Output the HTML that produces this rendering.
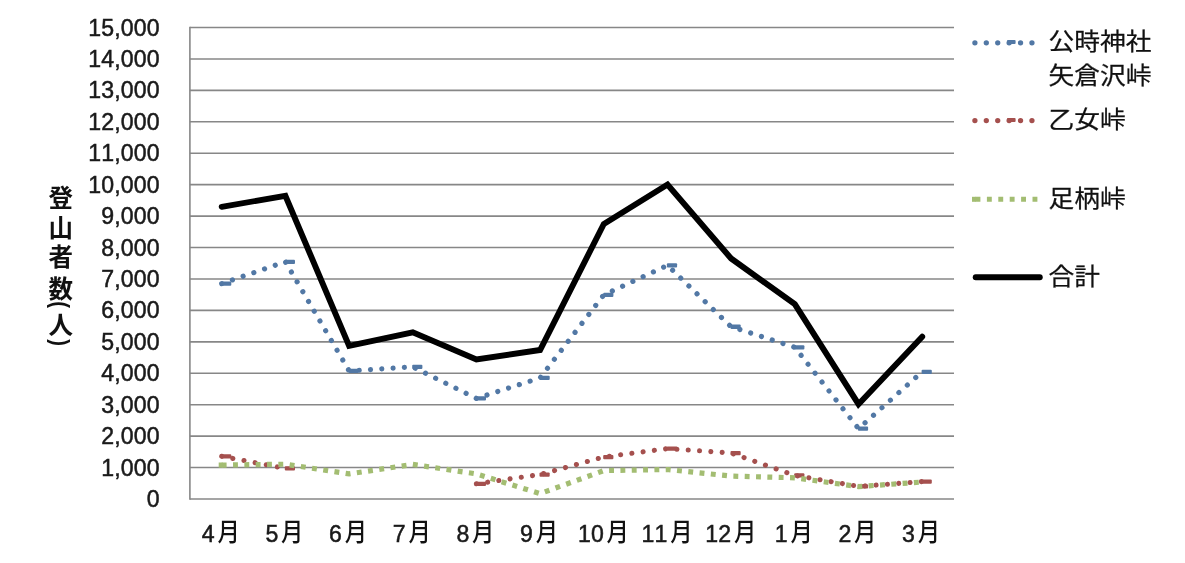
<!DOCTYPE html>
<html lang="ja">
<head>
<meta charset="utf-8">
<title>登山者数</title>
<style>
html,body{margin:0;padding:0;background:#fff;}
body{width:1185px;height:563px;overflow:hidden;}
svg{display:block;}
.num{font-family:"Liberation Sans",sans-serif;font-size:23.1px;letter-spacing:0.15px;fill:#1a1a1a;font-kerning:none;stroke:#1a1a1a;stroke-width:0.5px;}
.jp{font-family:"Liberation Sans","Noto Sans CJK JP",sans-serif;font-size:23.6px;font-weight:400;fill:#111;stroke:#111;stroke-width:0.25px;}
.mo{font-family:"Liberation Sans","Noto Sans CJK JP",sans-serif;font-size:24.5px;font-weight:500;fill:#111;}
.ttl{font-family:"Liberation Sans","Noto Sans CJK JP",sans-serif;font-size:24.5px;font-weight:bold;fill:#111;}
</style>
</head>
<body>
<svg width="1185" height="563" viewBox="0 0 1185 563">
<rect x="0" y="0" width="1185" height="563" fill="#ffffff"/>

<g stroke="#878787" stroke-width="1.6" fill="none">
<line x1="189.9" y1="499.00" x2="954.0" y2="499.00"/>
<line x1="189.9" y1="467.57" x2="954.0" y2="467.57"/>
<line x1="189.9" y1="436.13" x2="954.0" y2="436.13"/>
<line x1="189.9" y1="404.70" x2="954.0" y2="404.70"/>
<line x1="189.9" y1="373.27" x2="954.0" y2="373.27"/>
<line x1="189.9" y1="341.83" x2="954.0" y2="341.83"/>
<line x1="189.9" y1="310.40" x2="954.0" y2="310.40"/>
<line x1="189.9" y1="278.97" x2="954.0" y2="278.97"/>
<line x1="189.9" y1="247.53" x2="954.0" y2="247.53"/>
<line x1="189.9" y1="216.10" x2="954.0" y2="216.10"/>
<line x1="189.9" y1="184.67" x2="954.0" y2="184.67"/>
<line x1="189.9" y1="153.23" x2="954.0" y2="153.23"/>
<line x1="189.9" y1="121.80" x2="954.0" y2="121.80"/>
<line x1="189.9" y1="90.37" x2="954.0" y2="90.37"/>
<line x1="189.9" y1="58.93" x2="954.0" y2="58.93"/>
<line x1="189.9" y1="27.50" x2="954.0" y2="27.50"/>
<line x1="189.9" y1="26.80" x2="189.9" y2="499.70"/>
</g>
<g class="num" text-anchor="end">
<text x="159.7" y="507">0</text>
<text x="159.7" y="476">1,000</text>
<text x="159.7" y="444">2,000</text>
<text x="159.7" y="413">3,000</text>
<text x="159.7" y="381">4,000</text>
<text x="159.7" y="350">5,000</text>
<text x="159.7" y="318">6,000</text>
<text x="159.7" y="287">7,000</text>
<text x="159.7" y="256">8,000</text>
<text x="159.7" y="224">9,000</text>
<text x="159.7" y="193">10,000</text>
<text x="159.7" y="161">11,000</text>
<text x="159.7" y="130">12,000</text>
<text x="159.7" y="98">13,000</text>
<text x="159.7" y="67">14,000</text>
<text x="159.7" y="36">15,000</text>
</g>
<g>
<text x="214.7" y="541.6" class="num" text-anchor="end">4</text>
<text transform="translate(217.4 541.4) scale(0.91 1)" class="mo">月</text>
<text x="278.4" y="541.6" class="num" text-anchor="end">5</text>
<text transform="translate(281.1 541.4) scale(0.91 1)" class="mo">月</text>
<text x="342.0" y="541.6" class="num" text-anchor="end">6</text>
<text transform="translate(344.7 541.4) scale(0.91 1)" class="mo">月</text>
<text x="405.7" y="541.6" class="num" text-anchor="end">7</text>
<text transform="translate(408.4 541.4) scale(0.91 1)" class="mo">月</text>
<text x="469.4" y="541.6" class="num" text-anchor="end">8</text>
<text transform="translate(472.1 541.4) scale(0.91 1)" class="mo">月</text>
<text x="533.1" y="541.6" class="num" text-anchor="end">9</text>
<text transform="translate(535.8 541.4) scale(0.91 1)" class="mo">月</text>
<text x="603.9" y="541.6" class="num" text-anchor="end">10</text>
<text transform="translate(606.6 541.4) scale(0.91 1)" class="mo">月</text>
<text x="667.6" y="541.6" class="num" text-anchor="end">11</text>
<text transform="translate(670.3 541.4) scale(0.91 1)" class="mo">月</text>
<text x="731.2" y="541.6" class="num" text-anchor="end">12</text>
<text transform="translate(733.9 541.4) scale(0.91 1)" class="mo">月</text>
<text x="787.8" y="541.6" class="num" text-anchor="end">1</text>
<text transform="translate(790.5 541.4) scale(0.91 1)" class="mo">月</text>
<text x="851.4" y="541.6" class="num" text-anchor="end">2</text>
<text transform="translate(854.1 541.4) scale(0.91 1)" class="mo">月</text>
<text x="915.1" y="541.6" class="num" text-anchor="end">3</text>
<text transform="translate(917.8 541.4) scale(0.91 1)" class="mo">月</text>
</g>
<g class="ttl" text-anchor="middle">
<text x="60.8" y="207.1">登</text>
<text x="60.8" y="236.8">山</text>
<text x="60.8" y="266.4">者</text>
<text x="60.8" y="297.7">数</text>
<text x="60.8" y="334.3">人</text>
<text transform="translate(60.3 304.6) rotate(90) scale(0.82 1)" x="0" y="8.5">(</text>
<text transform="translate(60.3 342.6) rotate(90) scale(0.82 1)" x="0" y="8.5">)</text>
</g>
<g fill="none">
<path d="M221.7 283.6 L285.4 261.8 L349.1 370.9 L412.8 366.9 L476.4 398.4 L540.1 377.9 L603.8 294.9 L667.5 265.3 L731.1 326.7 L794.8 347.3 L858.5 428.6 L922.2 371.8" stroke="#5278a5" stroke-width="5.2" stroke-linecap="round" stroke-linejoin="round" stroke-dasharray="0.01 11.31"/>
<rect x="221.1" y="281.5" width="10.2" height="4.3" rx="1" fill="#5278a5"/>
<rect x="284.8" y="259.7" width="10.2" height="4.3" rx="1" fill="#5278a5"/>
<rect x="348.5" y="368.8" width="10.2" height="4.3" rx="1" fill="#5278a5"/>
<rect x="412.2" y="364.8" width="10.2" height="4.3" rx="1" fill="#5278a5"/>
<rect x="475.8" y="396.3" width="10.2" height="4.3" rx="1" fill="#5278a5"/>
<rect x="539.5" y="375.8" width="10.2" height="4.3" rx="1" fill="#5278a5"/>
<rect x="603.2" y="292.8" width="10.2" height="4.3" rx="1" fill="#5278a5"/>
<rect x="666.9" y="263.2" width="10.2" height="4.3" rx="1" fill="#5278a5"/>
<rect x="730.5" y="324.6" width="10.2" height="4.3" rx="1" fill="#5278a5"/>
<rect x="794.2" y="345.2" width="10.2" height="4.3" rx="1" fill="#5278a5"/>
<rect x="857.9" y="426.5" width="10.2" height="4.3" rx="1" fill="#5278a5"/>
<rect x="921.6" y="369.7" width="10.2" height="4.3" rx="1" fill="#5278a5"/>
<path d="M221.7 456.3 L285.4 468.4 M476.4 483.8 L540.1 474.5 L603.8 457.0 L667.5 448.6 L731.1 453.0 L794.8 475.4 L858.5 486.4 L922.2 481.6" stroke="#a5504e" stroke-width="5.1" stroke-linecap="round" stroke-linejoin="round" stroke-dasharray="0.01 11.33"/>
<rect x="221.1" y="454.2" width="10.2" height="4.3" rx="1" fill="#a5504e"/>
<rect x="284.8" y="466.3" width="10.2" height="4.3" rx="1" fill="#a5504e"/>
<rect x="475.8" y="481.7" width="10.2" height="4.3" rx="1" fill="#a5504e"/>
<rect x="539.5" y="472.4" width="10.2" height="4.3" rx="1" fill="#a5504e"/>
<rect x="603.2" y="454.9" width="10.2" height="4.3" rx="1" fill="#a5504e"/>
<rect x="666.9" y="446.5" width="10.2" height="4.3" rx="1" fill="#a5504e"/>
<rect x="730.5" y="450.9" width="10.2" height="4.3" rx="1" fill="#a5504e"/>
<rect x="794.2" y="473.3" width="10.2" height="4.3" rx="1" fill="#a5504e"/>
<rect x="857.9" y="484.3" width="10.2" height="4.3" rx="1" fill="#a5504e"/>
<rect x="921.6" y="479.5" width="10.2" height="4.3" rx="1" fill="#a5504e"/>
<path d="M221.7 465.1 L285.4 464.2 L349.1 473.9 L412.8 464.4 L476.4 473.9 L540.1 493.6 L603.8 470.6 L667.5 469.5 L731.1 476.1 L794.8 477.8 L858.5 486.6 L922.2 482.0" stroke="#a3bd72" stroke-width="5.2" stroke-linecap="butt" stroke-linejoin="miter" stroke-dasharray="4.9 6.43"/>
<rect x="218.7" y="462.5" width="4" height="5.2" fill="#a3bd72"/>
<path d="M221.7 206.8 L285.4 195.8 L349.1 345.8 L412.8 332.3 L476.4 359.5 L540.1 350.0 L603.8 224.0 L667.5 184.5 L731.1 258.5 L794.8 304.1 L858.5 404.2 L922.2 336.7" stroke="#000" stroke-width="5.9" stroke-linecap="round" stroke-linejoin="miter"/>
</g>
<path d="M974.9 42.8 L1035.5 42.8" stroke="#5278a5" stroke-width="5.3" stroke-linecap="round" stroke-dasharray="0.01 11.4" fill="none"/>
<rect x="1007.0" y="40.1" width="8.6" height="4.0" rx="1" fill="#5278a5"/>
<path d="M974.9 120.6 L1035.5 120.6" stroke="#a5504e" stroke-width="5.3" stroke-linecap="round" stroke-dasharray="0.01 11.4" fill="none"/>
<rect x="1007.0" y="117.9" width="8.6" height="4.0" rx="1" fill="#a5504e"/>
<path d="M975.5 199.3 L1038.0 199.3" stroke="#a3bd72" stroke-width="5" stroke-dasharray="4.9 6.5" fill="none"/>
<rect x="972" y="196.8" width="4" height="5" fill="#a3bd72"/>
<path d="M975.7 277.3 L1039.8 277.3" stroke="#000" stroke-width="5.9" stroke-linecap="round" fill="none"/>
<g class="jp">
<text transform="translate(1048.6 50.1) scale(1.09 1)" x="0" y="0">公時神社</text>
<text transform="translate(1048.6 83.9) scale(1.09 1)" x="0" y="0">矢倉沢峠</text>
<text transform="translate(1048.6 127.8) scale(1.09 1)" x="0" y="0">乙女峠</text>
<text transform="translate(1048.6 206.9) scale(1.09 1)" x="0" y="0">足柄峠</text>
<text transform="translate(1048.6 285.4) scale(1.09 1)" x="0" y="0">合計</text>
</g>
</svg>
</body>
</html>
